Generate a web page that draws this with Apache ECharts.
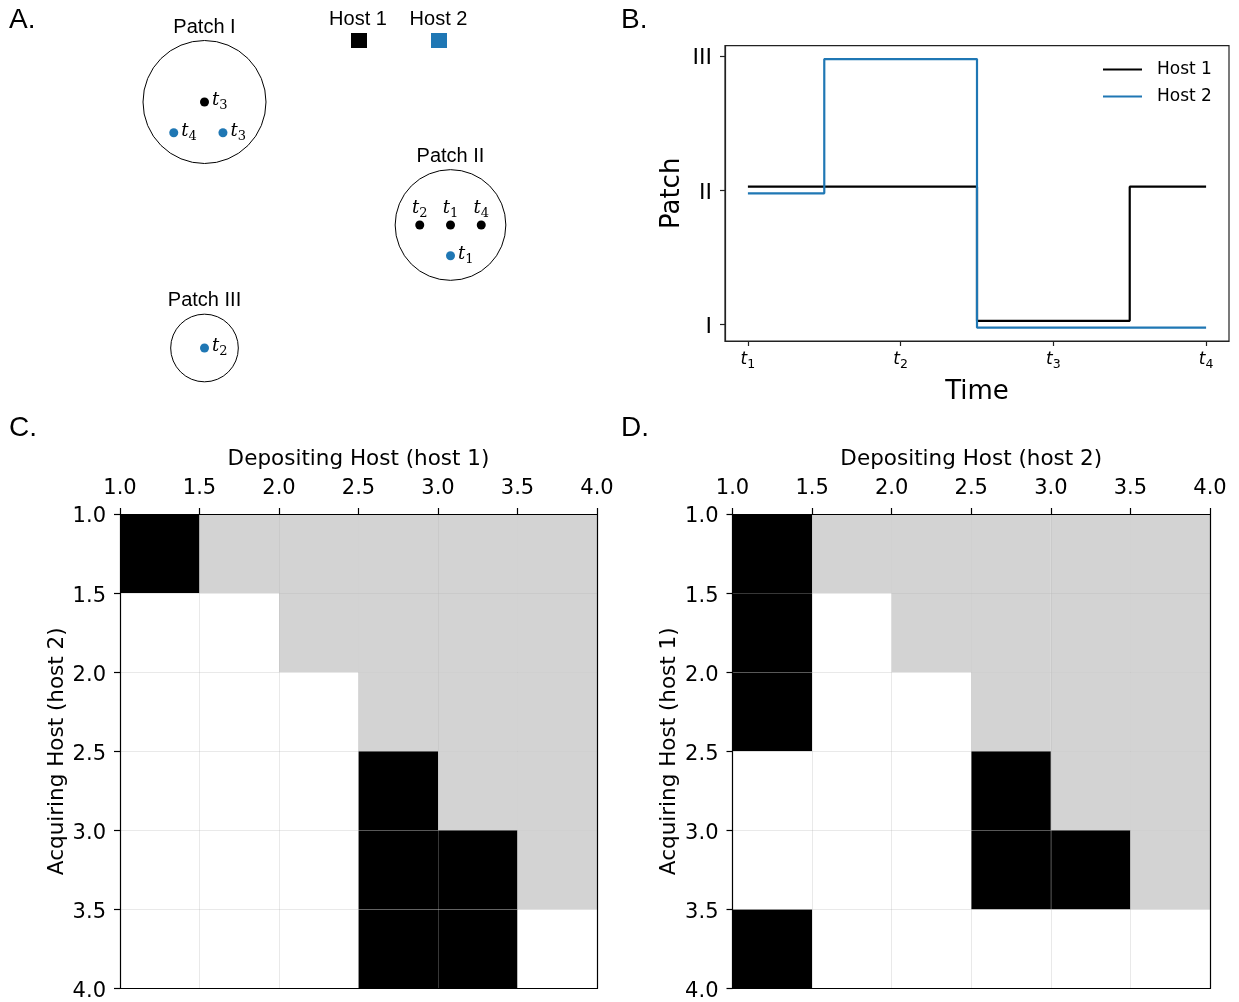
<!DOCTYPE html>
<html><head><meta charset="utf-8">
<script src="https://cdn.jsdelivr.net/npm/echarts@6/dist/echarts.min.js"></script>
<style>html,body{margin:0;padding:0;background:#fff}#c{width:1239px;height:1002px}</style>
</head><body><div id="c"></div>
<script>
// ---------- Panel A: patch layout ----------
const patchNames = ['Patch I', 'Patch II', 'Patch III'];
const patchCenters = [[0, 0], [8, -4], [0, -8]];
const patchRadii = [2.0, 1.8, 1.1];
const host1Points = [[0, 0], [7, -4], [8, -4], [9, -4]];
const host1Times = ['3', '2', '1', '4'];
const host2Points = [[-1, -1], [0.6, -1], [8, -5], [0, -8]];
const host2Times = ['4', '3', '1', '2'];
const hostNames = ['Host 1', 'Host 2'];

// ---------- Panel B: patch over time ----------
const timeTicks = [1, 2, 3, 4];
const timeSubs = ['1', '2', '3', '4'];
const patchTicks = [1, 2, 3];
const patchTickLabels = ['I', 'II', 'III'];
const host1Patch = [2.025, 2.025, 1.025, 2.025];
const host2Patch = [1.975, 2.975, 0.975, 0.975];

// ---------- Panels C, D: heatmaps (0 white, 1 black, 2 grey) ----------
const hostEdges = [1.0, 1.5, 2.0, 2.5, 3.0, 3.5, 4.0];
const matrixC = [
  [1, 2, 2, 2, 2, 2],
  [0, 0, 2, 2, 2, 2],
  [0, 0, 0, 2, 2, 2],
  [0, 0, 0, 1, 2, 2],
  [0, 0, 0, 1, 1, 2],
  [0, 0, 0, 1, 1, 0]
];
const matrixD = [
  [1, 2, 2, 2, 2, 2],
  [1, 0, 2, 2, 2, 2],
  [1, 0, 0, 2, 2, 2],
  [0, 0, 0, 1, 2, 2],
  [0, 0, 0, 1, 1, 2],
  [1, 0, 0, 0, 0, 0]
];

const BLUE = '#1f77b4';
const SANS = 'DejaVu Sans';
const ARIAL = 'Liberation Sans';
const cellColors = ['#ffffff', '#000000', '#d3d3d3'];

function cellData(m) {
  const out = [];
  for (let i = 0; i < m.length; i++)
    for (let j = 0; j < m[i].length; j++)
      out.push([hostEdges[j], hostEdges[j + 1], hostEdges[i], hostEdges[i + 1], m[i][j]]);
  return out;
}

function renderCell(params, api) {
  const p0 = api.coord([api.value(0), api.value(2)]);
  const p1 = api.coord([api.value(1), api.value(3)]);
  return {
    type: 'rect',
    shape: { x: Math.min(p0[0], p1[0]), y: Math.min(p0[1], p1[1]),
             width: Math.abs(p1[0] - p0[0]), height: Math.abs(p1[1] - p0[1]) },
    style: { fill: cellColors[api.value(4)] }
  };
}

const mathRichSerif = {
  t: { fontFamily: 'DejaVu Serif', fontStyle: 'italic', fontSize: 18, color: '#000', padding: [0, 0, 3, 0] },
  s: { fontFamily: 'DejaVu Serif', fontSize: 13, color: '#000', verticalAlign: 'bottom' }
};

function pointSeries(name, pts, subs, color) {
  return {
    type: 'scatter', name: name, xAxisIndex: 0, yAxisIndex: 0,
    symbol: 'circle', symbolSize: 9, itemStyle: { color: color, opacity: 1 },
    data: pts.map((p, k) => {
      const inPatchIIRow = color === '#000' && p[1] === patchCenters[1][1];
      return {
        value: [p[0], p[1]],
        label: {
          show: true,
          position: inPatchIIRow ? 'top' : 'right',
          distance: inPatchIIRow ? 0 : 3,
          formatter: '{t|t}{s|' + subs[k] + '}',
          rich: mathRichSerif
        }
      };
    })
  };
}

function heatAxes(gridIndex, xName, yName) {
  const lineStyle = { color: '#000', width: 1.2 };
  const split = { show: true, lineStyle: { color: 'rgba(182,182,182,0.3)', width: 1 } };
  const lab = { color: '#000', fontFamily: SANS, fontSize: 21, formatter: v => v.toFixed(1) };
  return {
    x: [
      { type: 'value', gridIndex, position: 'top', min: 1, max: 4, interval: 0.5, z: 10,
        name: xName, nameLocation: 'middle', nameGap: 44,
        nameTextStyle: { color: '#000', fontFamily: SANS, fontSize: 21.5 },
        axisLine: { show: true, onZero: false, lineStyle },
        axisTick: { show: true, length: 6, lineStyle },
        axisLabel: Object.assign({ margin: 15 }, lab),
        splitLine: split },
      { type: 'value', gridIndex, position: 'bottom', min: 1, max: 4, z: 10,
        axisLine: { show: true, onZero: false, lineStyle },
        axisTick: { show: false }, axisLabel: { show: false }, splitLine: { show: false } }
    ],
    y: [
      { type: 'value', gridIndex, position: 'left', inverse: true, min: 1, max: 4, interval: 0.5, z: 10,
        name: yName, nameLocation: 'middle', nameGap: 52, nameRotate: 90,
        nameTextStyle: { color: '#000', fontFamily: SANS, fontSize: 21.5 },
        axisLine: { show: true, onZero: false, lineStyle },
        axisTick: { show: true, length: 6, lineStyle },
        axisLabel: { margin: 14, formatter: v => '{v|' + v.toFixed(1) + '}',
          rich: { v: { color: '#000', fontFamily: SANS, fontSize: 21, padding: [6, 0, 0, 0] } } },
        splitLine: split },
      { type: 'value', gridIndex, position: 'right', inverse: true, min: 1, max: 4, z: 10,
        axisLine: { show: true, onZero: false, lineStyle },
        axisTick: { show: false }, axisLabel: { show: false }, splitLine: { show: false } }
    ]
  };
}

const axC = heatAxes(2, 'Depositing Host (host 1)', 'Acquiring Host (host 2)');
const axD = heatAxes(3, 'Depositing Host (host 2)', 'Acquiring Host (host 1)');

const bAxisLine = { color: '#222', width: 1.2 };

const option = {
  animation: false,
  backgroundColor: '#fff',
  grid: [
    { left: 20, top: 9.75, width: 584.25, height: 399.75 },
    { left: 725, top: 45.7, width: 504, height: 295.3, show: true, borderColor: '#222', borderWidth: 1.2 },
    { left: 120, top: 514, width: 477, height: 477 },
    { left: 732.5, top: 514, width: 477.5, height: 477 }
  ],
  xAxis: [
    { type: 'value', gridIndex: 0, min: -6, max: 13, show: false },
    { type: 'value', gridIndex: 1, min: 0.85, max: 4.15,
      name: 'Time', nameLocation: 'middle', nameGap: 38,
      nameTextStyle: { color: '#000', fontFamily: SANS, fontSize: 26 },
      axisLine: { show: true, onZero: false, lineStyle: bAxisLine },
      axisTick: { show: true, length: 5, lineStyle: bAxisLine, customValues: timeTicks },
      axisLabel: { margin: 10, customValues: timeTicks,
        formatter: v => '{t|t}{s|' + timeSubs[timeTicks.indexOf(v)] + '}',
        rich: {
          t: { fontFamily: SANS, fontStyle: 'italic', fontSize: 17, color: '#000', padding: [0, 0, 3, 0] },
          s: { fontFamily: SANS, fontSize: 12.5, color: '#000', verticalAlign: 'bottom' }
        } },
      splitLine: { show: false } },
    axC.x[0], axC.x[1], axD.x[0], axD.x[1]
  ],
  yAxis: [
    { type: 'value', gridIndex: 0, min: -10, max: 3, show: false },
    { type: 'value', gridIndex: 1, min: 0.875, max: 3.075,
      name: 'Patch', nameLocation: 'middle', nameGap: 40, nameRotate: 90,
      nameTextStyle: { color: '#000', fontFamily: SANS, fontSize: 26 },
      axisLine: { show: true, onZero: false, lineStyle: bAxisLine },
      axisTick: { show: true, length: 5, lineStyle: bAxisLine, customValues: patchTicks },
      axisLabel: { margin: 13, customValues: patchTicks,
        formatter: v => '{v|' + patchTickLabels[patchTicks.indexOf(v)] + '}',
        rich: { v: { color: '#000', fontFamily: SANS, fontSize: 22, padding: [6, 0, 0, 0] } } },
      splitLine: { show: false } },
    axC.y[0], axC.y[1], axD.y[0], axD.y[1]
  ],
  legend: {
    data: hostNames, orient: 'vertical', left: 1103, top: 61, padding: 0,
    icon: 'rect', itemWidth: 39, itemHeight: 2.2, itemGap: 10,
    textStyle: { color: '#000', fontFamily: SANS, fontSize: 17, padding: [0, 0, 0, 10] }
  },
  series: [
    {
      type: 'custom', name: 'patches', xAxisIndex: 0, yAxisIndex: 0,
      data: patchCenters.map((c, i) => [c[0], c[1], patchRadii[i]]),
      renderItem: (params, api) => {
        const c = api.coord([api.value(0), api.value(1)]);
        const r = api.size([api.value(2), 0])[0];
        return { type: 'group', children: [
          { type: 'circle', shape: { cx: c[0], cy: c[1], r: r },
            style: { fill: 'none', stroke: '#000', lineWidth: 1 } },
          { type: 'text', style: { text: patchNames[params.dataIndex], x: c[0], y: c[1] - r - 13.5,
            align: 'center', verticalAlign: 'middle', fontFamily: ARIAL, fontSize: 20, fill: '#000' } }
        ] };
      }
    },
    pointSeries('Host 1 locations', host1Points, host1Times, '#000'),
    pointSeries('Host 2 locations', host2Points, host2Times, BLUE),
    { type: 'line', name: hostNames[0], xAxisIndex: 1, yAxisIndex: 1, step: 'middle',
      symbol: 'none', color: '#000', lineStyle: { color: '#000', width: 2.2 },
      data: timeTicks.map((t, i) => [t, host1Patch[i]]) },
    { type: 'line', name: hostNames[1], xAxisIndex: 1, yAxisIndex: 1, step: 'middle',
      symbol: 'none', color: BLUE, lineStyle: { color: BLUE, width: 2.2 },
      data: timeTicks.map((t, i) => [t, host2Patch[i]]) },
    { type: 'custom', name: 'C', xAxisIndex: 2, yAxisIndex: 2, renderItem: renderCell,
      encode: { x: [0, 1], y: [2, 3] }, data: cellData(matrixC) },
    { type: 'custom', name: 'D', xAxisIndex: 4, yAxisIndex: 4, renderItem: renderCell,
      encode: { x: [0, 1], y: [2, 3] }, data: cellData(matrixD) }
  ],
  graphic: [
    { type: 'text', x: 9, y: 6, style: { text: 'A.', fontFamily: ARIAL, fontSize: 28, fill: '#000' } },
    { type: 'text', x: 621, y: 6, style: { text: 'B.', fontFamily: ARIAL, fontSize: 28, fill: '#000' } },
    { type: 'text', x: 9, y: 414, style: { text: 'C.', fontFamily: ARIAL, fontSize: 28, fill: '#000' } },
    { type: 'text', x: 621, y: 414, style: { text: 'D.', fontFamily: ARIAL, fontSize: 28, fill: '#000' } },
    { type: 'text', x: 358, y: 19, style: { text: hostNames[0], fontFamily: ARIAL, fontSize: 20, fill: '#000', align: 'center', verticalAlign: 'middle' } },
    { type: 'text', x: 438.5, y: 19, style: { text: hostNames[1], fontFamily: ARIAL, fontSize: 20, fill: '#000', align: 'center', verticalAlign: 'middle' } },
    { type: 'rect', shape: { x: 351, y: 33, width: 16, height: 15 }, style: { fill: '#000' } },
    { type: 'rect', shape: { x: 431, y: 33, width: 16, height: 15 }, style: { fill: BLUE } }
  ]
};

const chart = echarts.init(document.getElementById('c'), null, { renderer: 'canvas' });
chart.setOption(option);
</script>
</body></html>
